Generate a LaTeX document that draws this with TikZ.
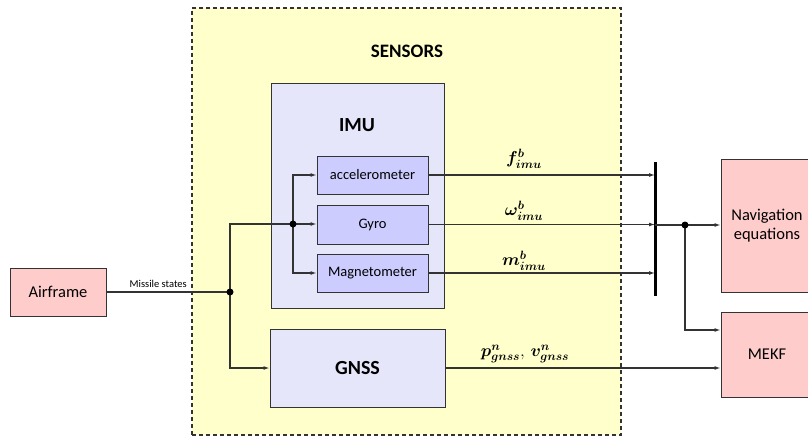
\documentclass[tikz,border=0pt]{standalone}
\usepackage{fontspec}
\setmainfont{Carlito}
\usepackage{amsmath}
\usepackage{bm}
\usetikzlibrary{arrows.meta,calc}
\definecolor{senfill}{HTML}{FFFFCC}
\definecolor{imufill}{HTML}{E6E6FA}
\definecolor{subfill}{HTML}{CCCCFF}
\definecolor{pinkfill}{HTML}{FFCCCC}
\definecolor{linecol}{HTML}{333333}
\begin{document}
\begin{tikzpicture}[x=1pt,y=-1pt,
  box/.style={draw=linecol, line width=1pt, inner sep=0pt, align=center},
  pinkbox/.style={box, fill=pinkfill, font=\fontsize{16.5}{19.5}\selectfont},
  subbox/.style={box, fill=subfill, minimum width=111pt, font=\fontsize{14.5}{16}\selectfont},
  conn/.style={draw=linecol, line width=1.1pt},
  arr/.style={conn, -{Latex[length=6pt,width=4pt]}},
  dot/.style={circle, fill=black, inner sep=0pt, minimum size=7pt},
  lbl/.style={inner sep=0pt, font=\fontsize{17}{20}\selectfont}
]
\useasboundingbox (0,0) rectangle (808,436);
\clip (0,0) rectangle (808,436);
% sensors container
\node[box, draw=linecol, line width=1.2pt, dash pattern=on 4pt off 3pt, fill=senfill,
  minimum width=429pt, minimum height=427pt] (sens) at (406.5,221.5) {};
\node[font=\fontsize{19}{22}\selectfont\bfseries] (senslbl) at (407,51) {SENSORS};
% IMU
\node[box, fill=imufill, minimum width=173pt, minimum height=225pt] (imu) at (357.5,195.5) {};
\node[font=\fontsize{20}{24}\selectfont\bfseries] (imulbl) at (357,125) {IMU};
\node[subbox, minimum height=38pt] (acc) at (372.5,175) {accelerometer};
\node[subbox, minimum height=39pt] (gyro) at (372.5,224.5) {Gyro};
\node[subbox, minimum height=38pt] (mag) at (372.5,273) {Magnetometer};
% GNSS
\node[box, fill=imufill, minimum width=175pt, minimum height=78pt,
  font=\fontsize{20}{24}\selectfont\bfseries] (gnss) at (357.5,368) {GNSS};
% Airframe
\node[pinkbox, minimum width=96pt, minimum height=48pt] (air) at (58,292) {Airframe};
% right boxes
\node[pinkbox, minimum width=92pt, minimum height=133pt] (nav) at (767,225.5) {Navigation\\equations};
\node[pinkbox, minimum width=92pt, minimum height=85pt] (mekf) at (767,354.5) {MEKF};
% junctions
\coordinate (j1) at (230,292);
\coordinate (j2) at (293,224);
\coordinate (j3) at (685,225);
\coordinate (bartop) at (655,162);
\coordinate (barbot) at (655,296);
% connectors
\draw[conn] (air.east) -- (j1);
\node[inner sep=0pt, font=\fontsize{10.5}{12}\selectfont, anchor=south east] (ms) at (187,288) {Missile states};
\draw[conn] (j1) |- (j2);
\draw[arr] (j1) |- (gnss.west);
\draw[arr] (j2) -- (j2 -| gyro.west);
\draw[arr] (j2) |- (acc.west);
\draw[arr] (j2) |- (mag.west);
\draw[arr] (acc.east) -- (acc.east -| bartop);
\draw[arr] (gyro.east) -- (gyro.east -| bartop);
\draw[arr] (mag.east) -- (mag.east -| bartop);
\draw[line width=3pt, black] (bartop) -- (barbot);
\draw[arr] (j3 -| bartop) -- (j3 -| nav.west);
\draw[arr] (j3) |- ($(mekf.west)+(0,-24.5)$);
\draw[arr] (gnss.east) -- (gnss.east -| mekf.west);
\node[dot] at (j1) {};
\node[dot] at (j2) {};
\node[dot] at (j3) {};
% labels
\node[lbl] (lf) at (524,159) {$\bm{f^{b}_{imu}}$};
\node[lbl] (lw) at (524,211) {$\bm{\omega^{b}_{imu}}$};
\node[lbl] (lm) at (524,261) {$\bm{m^{b}_{imu}}$};
\node[lbl] (lp) at (525,354) {$\bm{p^{n}_{gnss}},\,\bm{v^{n}_{gnss}}$};
\end{tikzpicture}
\end{document}
